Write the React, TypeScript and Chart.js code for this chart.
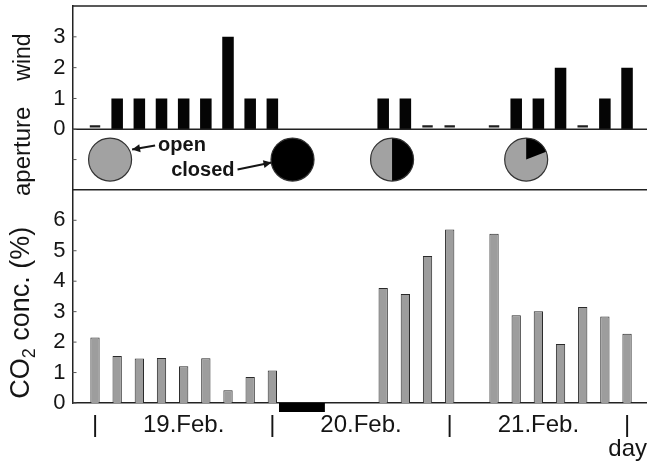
import React, { useEffect, useRef } from 'react';
import { Chart, registerables } from 'chart.js';

Chart.register(...registerables);

// x = 3-hour interval index, starting 19.Feb 00:00 (slot 24 = end of 21.Feb)
const windValues: (number | null)[] = [0, 1, 1, 1, 1, 1, 3, 1, 1, null, null, null, null, 1, 1, 0, 0, null, 0, 1, 1, 2, 0, 1, 2];
const co2Values: (number | null)[] = [2.15, 1.54, 1.46, 1.48, 1.21, 1.47, 0.42, 0.85, 1.07, null, null, null, null, 3.78, 3.58, 4.83, 5.7, null, 5.56, 2.88, 3.01, 1.94, 3.15, 2.84, 2.27];
const closedPeriod = [8.3, 10.37];
const closedMarkLevel = -0.15;
const calmMark = [0.06, 0.13];
const aperturePositions = [0.68, 8.91, 13.4, 19.45];
const apertureClosedShare = [0, 1, 0.5, 0.19];
const xTickPositions = [0, 4, 8, 12, 16, 20, 24];
const xTickLabels = ['|', '19.Feb.', '|', '20.Feb.', '|', '21.Feb.', '|'];
const windTicks = [0, 1, 2, 3];
const apertureTicks = [0.5];
const co2Ticks = [0, 1, 2, 3, 4, 5, 6];

const FONT = '"Liberation Sans", Arial, Helvetica, sans-serif';
const INK = '#151515';

function arrow(ctx: CanvasRenderingContext2D, x1: number, y1: number, x2: number, y2: number) {
  ctx.beginPath();
  ctx.moveTo(x1, y1);
  ctx.lineTo(x2, y2);
  ctx.stroke();
  const a = Math.atan2(y2 - y1, x2 - x1);
  const L = 8, W = 4;
  ctx.beginPath();
  ctx.moveTo(x2, y2);
  ctx.lineTo(x2 - L * Math.cos(a) + W * Math.sin(a), y2 - L * Math.sin(a) - W * Math.cos(a));
  ctx.lineTo(x2 - L * Math.cos(a) - W * Math.sin(a), y2 - L * Math.sin(a) + W * Math.cos(a));
  ctx.closePath();
  ctx.fill();
}

const panelPlugin = {
  id: 'panels',
  afterDraw(chart: any) {
    const ctx: CanvasRenderingContext2D = chart.ctx;
    const { left, right } = chart.chartArea;
    const x = chart.scales.x;
    const yW = chart.scales.yWind;
    const yA = chart.scales.yAperture;
    const yC = chart.scales.yCO2;
    ctx.save();
    // panel frame lines
    ctx.strokeStyle = '#222';
    ctx.lineWidth = 1.5;
    [yW.top, yW.bottom, yA.bottom].forEach((py: number) => {
      ctx.beginPath();
      ctx.moveTo(left, py);
      ctx.lineTo(right, py);
      ctx.stroke();
    });
    // inward tick marks
    ctx.lineWidth = 1;
    ctx.strokeStyle = '#555';
    [yW, yA, yC].forEach((s: any) => {
      s.ticks.forEach((t: any) => {
        const py = s.getPixelForValue(t.value);
        ctx.beginPath();
        ctx.moveTo(left, py);
        ctx.lineTo(left + 4, py);
        ctx.stroke();
      });
    });
    // aperture pies
    const r = 21.5;
    const cy = yA.getPixelForValue(0.5);
    const centers: number[] = [];
    aperturePositions.forEach((pos, i) => {
      const cx = x.getPixelForValue(pos);
      centers.push(cx);
      ctx.beginPath();
      ctx.arc(cx, cy, r, 0, Math.PI * 2);
      ctx.fillStyle = '#a2a2a2';
      ctx.fill();
      const share = apertureClosedShare[i];
      if (share > 0) {
        ctx.beginPath();
        if (share < 1) ctx.moveTo(cx, cy);
        ctx.arc(cx, cy, r, -Math.PI / 2, -Math.PI / 2 + share * Math.PI * 2);
        ctx.closePath();
        ctx.fillStyle = '#000';
        ctx.fill();
      }
      ctx.beginPath();
      ctx.arc(cx, cy, r, 0, Math.PI * 2);
      ctx.strokeStyle = '#333';
      ctx.lineWidth = 1.2;
      ctx.stroke();
    });
    // legend annotations
    ctx.fillStyle = INK;
    ctx.strokeStyle = INK;
    ctx.lineWidth = 2;
    ctx.font = `bold 20px ${FONT}`;
    ctx.textBaseline = 'alphabetic';
    ctx.textAlign = 'left';
    ctx.fillText('open', centers[0] + 48, cy - 9);
    arrow(ctx, centers[0] + 45, cy - 14, centers[0] + 22, cy - 10);
    ctx.textAlign = 'right';
    ctx.fillText('closed', centers[1] - 58, cy + 16);
    arrow(ctx, centers[1] - 55, cy + 10, centers[1] - 21, cy + 3);

    // axis titles (rotated)
    const vtext = (parts: { t: string; size: number; dy?: number }[], bx: number, cyc: number) => {
      ctx.save();
      ctx.translate(bx, cyc);
      ctx.rotate(-Math.PI / 2);
      ctx.textAlign = 'left';
      ctx.textBaseline = 'alphabetic';
      let total = 0;
      const widths = parts.map((p) => {
        ctx.font = `${p.size}px ${FONT}`;
        const w = ctx.measureText(p.t).width;
        total += w;
        return w;
      });
      let pos = -total / 2;
      parts.forEach((p, i) => {
        ctx.font = `${p.size}px ${FONT}`;
        ctx.fillText(p.t, pos, p.dy || 0);
        pos += widths[i];
      });
      ctx.restore();
    };
    ctx.fillStyle = INK;
    vtext([{ t: 'wind', size: 23 }], 30, yW.top + 51);
    vtext([{ t: 'aperture', size: 24 }], 30, yA.top + 22);
    vtext([
      { t: 'CO', size: 27 },
      { t: '2', size: 18, dy: 6 },
      { t: ' conc. (%)', size: 27 },
    ], 29, yC.top + 123);
    ctx.restore();
  },
};

export default function App() {
  const ref = useRef<HTMLCanvasElement>(null);
  useEffect(() => {
    if (!ref.current) return;
    const windBars = windValues.map((v, i) => ({ x: i, y: v !== null && v > 0 ? v : null }));
    const calmBars = windValues.map((v, i) => ({ x: i, y: v === 0 ? calmMark : null }));
    const co2Bars = co2Values.map((v, i) => ({ x: i, y: v }));
    const closedLine = closedPeriod.map((p) => ({ x: p, y: closedMarkLevel }));
    const yFit = (axis: any) => {
      axis.width = 72.5;
      axis.paddingTop = 0;
      axis.paddingBottom = 0;
    };
    const chart = new Chart(ref.current, {
      type: 'bar',
      data: {
        datasets: [
          {
            label: 'wind',
            data: windBars as any,
            yAxisID: 'yWind',
            backgroundColor: '#050505',
            barPercentage: 0.52,
            categoryPercentage: 1,
            grouped: false,
          } as any,
          {
            label: 'calm',
            data: calmBars as any,
            yAxisID: 'yWind',
            backgroundColor: '#1e1e1e',
            barPercentage: 0.47,
            categoryPercentage: 1,
            grouped: false,
          } as any,
          {
            label: 'CO2',
            data: co2Bars as any,
            yAxisID: 'yCO2',
            backgroundColor: '#9d9d9d',
            borderColor: '#2a2a2a',
            borderWidth: 1,
            barPercentage: 0.42,
            categoryPercentage: 1,
            grouped: false,
          } as any,
          {
            type: 'line',
            label: 'closed',
            data: closedLine as any,
            yAxisID: 'yCO2',
            borderColor: '#000',
            borderWidth: 9,
            borderCapStyle: 'butt',
            pointRadius: 0,
            clip: false,
          } as any,
        ],
      },
      options: {
        animation: false,
        responsive: false,
        layout: { padding: { top: 6, left: 0, right: 0, bottom: 0 } },
        plugins: { legend: { display: false }, tooltip: { enabled: false } },
        scales: {
          x: {
            type: 'linear',
            position: 'bottom',
            min: -1.015,
            max: 24.9,
            offset: false,
            afterBuildTicks: (axis: any) => {
              axis.ticks = xTickPositions.map((v) => ({ value: v }));
            },
            afterFit: (axis: any) => {
              axis.height = 62;
              axis.paddingLeft = 0;
              axis.paddingRight = 0;
            },
            ticks: {
              callback: (_v: any, i: number) => xTickLabels[i],
              autoSkip: false,
              maxRotation: 0,
              minRotation: 0,
              padding: 8,
              color: INK,
              font: { family: FONT, size: 24 },
            },
            grid: { display: false, drawTicks: false, offset: false },
            border: { display: true, color: '#222', width: 1.5 },
            title: {
              display: true,
              text: 'day',
              align: 'end',
              color: INK,
              font: { family: FONT, size: 24 },
              padding: { top: 0, bottom: 1 },
            },
          },
          yWind: {
            type: 'linear',
            position: 'left',
            stack: 'panels',
            stackWeight: 123.2,
            weight: 3,
            min: 0,
            max: 4,
            afterBuildTicks: (axis: any) => {
              axis.ticks = windTicks.map((v) => ({ value: v }));
            },
            afterFit: yFit,
            ticks: { autoSkip: false, padding: 7, color: INK, font: { family: FONT, size: 22 } },
            grid: { display: false, drawTicks: false },
            border: { display: true, color: '#222', width: 1.5 },
          },
          yAperture: {
            type: 'linear',
            position: 'left',
            stack: 'panels',
            stackWeight: 60.5,
            weight: 2,
            min: 0,
            max: 1,
            afterBuildTicks: (axis: any) => {
              axis.ticks = apertureTicks.map((v) => ({ value: v }));
            },
            afterFit: yFit,
            ticks: { display: false },
            grid: { display: false, drawTicks: false },
            border: { display: true, color: '#222', width: 1.5 },
          },
          yCO2: {
            type: 'linear',
            position: 'left',
            stack: 'panels',
            stackWeight: 213,
            weight: 1,
            min: 0,
            max: 7,
            afterBuildTicks: (axis: any) => {
              axis.ticks = co2Ticks.map((v) => ({ value: v }));
            },
            afterFit: yFit,
            ticks: { autoSkip: false, padding: 7, color: INK, font: { family: FONT, size: 22 } },
            grid: { display: false, drawTicks: false },
            border: { display: true, color: '#222', width: 1.5 },
          },
        },
      } as any,
      plugins: [panelPlugin],
    });
    return () => chart.destroy();
  }, []);
  return (
    <div style={{ position: 'fixed', left: 0, top: 0, width: 647, height: 465, background: '#fff' }}>
      <canvas ref={ref} width={647} height={465} style={{ display: 'block' }} />
    </div>
  );
}
